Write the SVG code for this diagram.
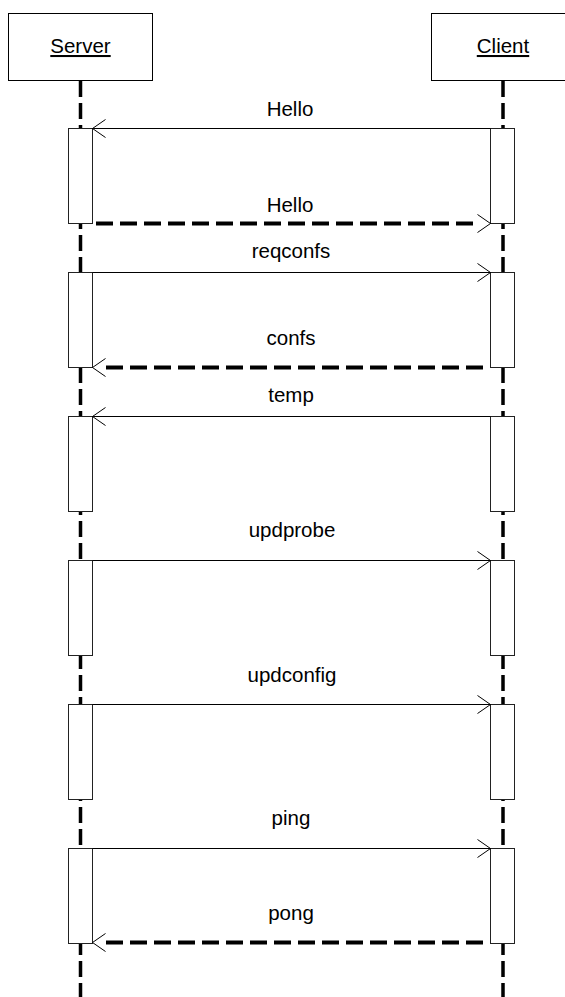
<svg xmlns="http://www.w3.org/2000/svg" width="565" height="997" viewBox="0 0 565 997">
<style>
.box{fill:#fff;stroke:#000;stroke-width:1}
.act{fill:#fff;stroke:#222;stroke-width:1}
.life{stroke:#000;stroke-width:3.5;stroke-dasharray:16 6;fill:none}
.msg{stroke:#000;stroke-width:1;fill:none}
.ret{stroke:#000;stroke-width:4;stroke-dasharray:17 7;fill:none}
.head{stroke:#000;stroke-width:1;fill:none}
text{font-family:"Liberation Sans",Arial,sans-serif;font-size:20.5px;fill:#000;text-anchor:middle}
</style>
<rect width="565" height="997" fill="#fff"/>
<g id="server">
<rect class="box" x="8.5" y="13.5" width="144" height="67"/>
<text x="80.5" y="53" text-decoration="underline">Server</text>
</g>
<g id="client">
<rect class="box" x="431.5" y="13.5" width="144" height="67"/>
<text x="503" y="53" text-decoration="underline">Client</text>
</g>
<g id="lifelines">
<line class="life" x1="80.5" y1="81" x2="80.5" y2="997"/>
<line class="life" x1="503" y1="81" x2="503" y2="997"/>
</g>
<g id="activations">
<rect class="act" x="68.5" y="128.5" width="24" height="95"/>
<rect class="act" x="490.5" y="128.5" width="24" height="95"/>
<rect class="act" x="68.5" y="272.5" width="24" height="95"/>
<rect class="act" x="490.5" y="272.5" width="24" height="95"/>
<rect class="act" x="68.5" y="416.5" width="24" height="95"/>
<rect class="act" x="490.5" y="416.5" width="24" height="95"/>
<rect class="act" x="68.5" y="560.5" width="24" height="95"/>
<rect class="act" x="490.5" y="560.5" width="24" height="95"/>
<rect class="act" x="68.5" y="704.5" width="24" height="95"/>
<rect class="act" x="490.5" y="704.5" width="24" height="95"/>
<rect class="act" x="68.5" y="848.5" width="24" height="95"/>
<rect class="act" x="490.5" y="848.5" width="24" height="95"/>
</g>
<g id="connectors">
<!-- Hello client->server -->
<line class="msg" x1="490.5" y1="128.5" x2="92.5" y2="128.5"/>
<polyline class="head" points="105.5,119.5 92.5,128.5 105.5,137.5"/>
<!-- Hello server->client dashed -->
<line class="ret" x1="96" y1="223.5" x2="478" y2="223.5"/>
<polyline class="head" points="477.5,214.5 490.5,223.5 477.5,232.5"/>
<!-- reqconfs -->
<line class="msg" x1="92.5" y1="272.5" x2="490.5" y2="272.5"/>
<polyline class="head" points="477.5,263.5 490.5,272.5 477.5,281.5"/>
<!-- confs -->
<line class="ret" x1="106" y1="367.5" x2="487" y2="367.5"/>
<polyline class="head" points="105.5,358.5 92.5,367.5 105.5,376.5"/>
<!-- temp -->
<line class="msg" x1="490.5" y1="416.5" x2="92.5" y2="416.5"/>
<polyline class="head" points="105.5,407.5 92.5,416.5 105.5,425.5"/>
<!-- updprobe -->
<line class="msg" x1="92.5" y1="560.5" x2="490.5" y2="560.5"/>
<polyline class="head" points="477.5,551.5 490.5,560.5 477.5,569.5"/>
<!-- updconfig -->
<line class="msg" x1="92.5" y1="704.5" x2="490.5" y2="704.5"/>
<polyline class="head" points="477.5,695.5 490.5,704.5 477.5,713.5"/>
<!-- ping -->
<line class="msg" x1="92.5" y1="848.5" x2="490.5" y2="848.5"/>
<polyline class="head" points="477.5,839.5 490.5,848.5 477.5,857.5"/>
<!-- pong -->
<line class="ret" x1="106" y1="942.5" x2="487" y2="942.5"/>
<polyline class="head" points="105.5,933.5 92.5,942.5 105.5,951.5"/>
</g>
<g id="labels">
<text x="290" y="116">Hello</text>
<text x="290" y="212">Hello</text>
<text x="291" y="258">reqconfs</text>
<text x="291" y="345">confs</text>
<text x="291" y="402">temp</text>
<text x="292" y="537">updprobe</text>
<text x="292" y="682">updconfig</text>
<text x="291" y="825">ping</text>
<text x="291" y="920">pong</text>
</g>
</svg>
